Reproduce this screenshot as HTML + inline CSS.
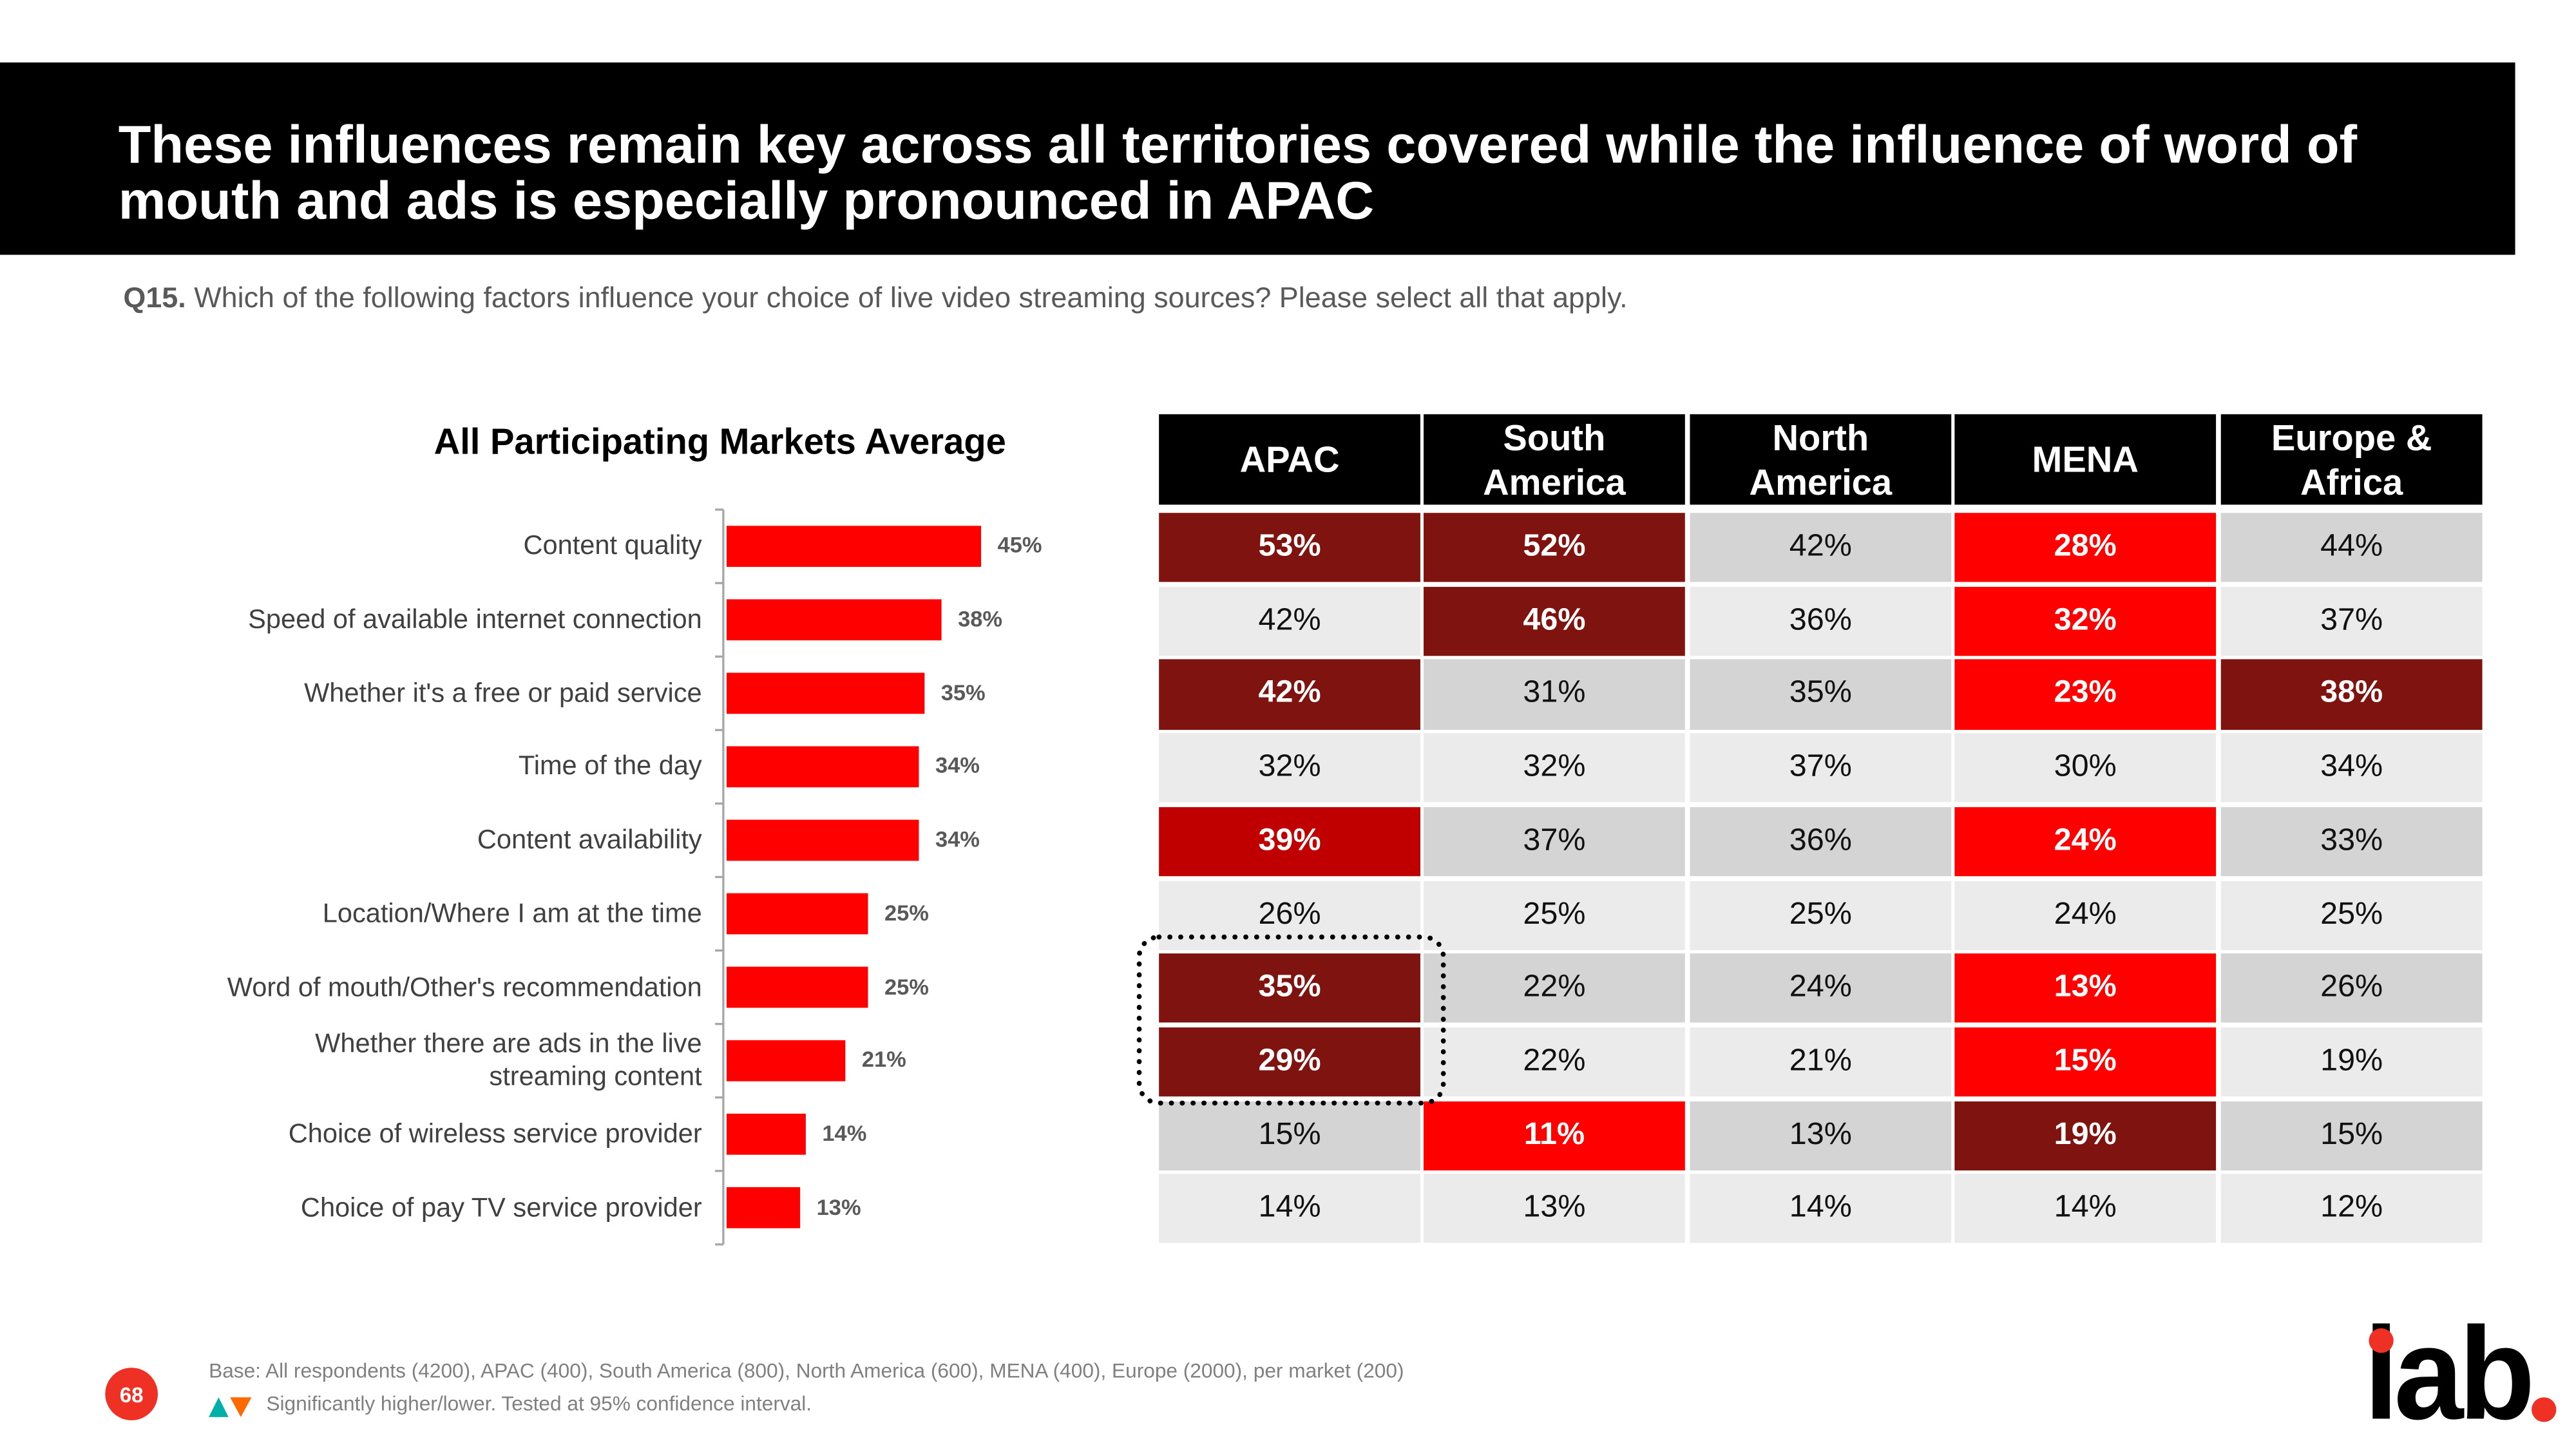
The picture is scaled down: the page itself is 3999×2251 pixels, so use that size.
<!DOCTYPE html>
<html><head><meta charset="utf-8"><style>
html,body{margin:0;padding:0;background:#fff;}
body{width:3999px;height:2250px;overflow:hidden;position:relative;font-family:"Liberation Sans",Arial,sans-serif;}
#wrap{position:absolute;left:0;top:0;width:1567px;height:882px;transform:scale(2.552);transform-origin:0 0;}
.abs{position:absolute;}
.lbl{position:absolute;right:1140px;text-align:right;font-size:16.3px;color:#404040;line-height:20px;}
.val{position:absolute;font-size:13.5px;font-weight:bold;color:#595959;}
.cell{position:absolute;display:flex;align-items:center;justify-content:center;font-size:19px;color:#111;}
.hdr{position:absolute;background:#000;color:#fff;display:flex;align-items:center;justify-content:center;text-align:center;font-size:22px;line-height:27px;font-weight:bold;}
</style></head><body>
<div id="wrap">
<div class="abs" style="left:0;top:38px;width:1530px;height:117px;background:#000;"></div>
<div class="abs" style="left:72px;top:71px;width:1420px;color:#fff;font-weight:bold;font-size:32.5px;line-height:34px;">These influences remain key across all territories covered while the influence of word of mouth and ads is especially pronounced in APAC</div>
<div class="abs" style="left:75px;top:171px;font-size:17.6px;color:#595959;"><b>Q15.</b> Which of the following factors influence your choice of live video streaming sources? Please select all that apply.</div>
<div class="abs" style="left:238px;top:256px;width:400px;text-align:center;font-weight:bold;font-size:22px;color:#000;">All Participating Markets Average</div>
<svg id="bars" class="abs" style="left:0;top:0;" width="700" height="800"></svg>
<div id="labels"></div>
<div id="table"></div>
<svg class="abs" style="left:690px;top:567px;" width="192" height="107"><rect x="3" y="3" width="185" height="101" rx="12" fill="none" stroke="#000" stroke-width="3" stroke-dasharray="0.1 6.5" stroke-linecap="round"/></svg>
<div class="abs" style="left:64px;top:832px;width:32px;height:32px;border-radius:50%;background:#ee3124;color:#fff;font-size:13px;font-weight:bold;display:flex;align-items:center;justify-content:center;">68</div>
<div class="abs" style="left:127px;top:827px;font-size:12.4px;color:#808080;">Base: All respondents (4200), APAC (400), South America (800), North America (600), MENA (400), Europe (2000), per market (200)</div>
<svg class="abs" style="left:127px;top:849px;" width="28" height="14"><polygon points="0,13 6,1 12,13" fill="#00b0a8"/><polygon points="13,1 26,1 19.5,13" fill="#ff6a00"/></svg>
<div class="abs" style="left:162px;top:847px;font-size:12.4px;color:#808080;">Significantly higher/lower. Tested at 95% confidence interval.</div>
<div class="abs" style="left:1438px;top:796px;font-size:80px;font-weight:bold;color:#000;letter-spacing:-3px;line-height:80px;transform:scaleX(0.95);transform-origin:0 0;">iab</div>
<div class="abs" style="left:1441px;top:808px;width:15px;height:15px;border-radius:50%;background:#ee3124;"></div>
<div class="abs" style="left:1540px;top:850px;width:15px;height:15px;border-radius:50%;background:#ee3124;"></div>
</div>
<script>
const categories=["Content quality","Speed of available internet connection","Whether it's a free or paid service","Time of the day","Content availability","Location/Where I am at the time","Word of mouth/Other's recommendation","Whether there are ads in the live streaming content","Choice of wireless service provider","Choice of pay TV service provider"];
const averages=[45,38,35,34,34,25,25,21,14,13];
const regions=["APAC","South America","North America","MENA","Europe & Africa"];
const apac=[53,42,42,32,39,26,35,29,15,14];
const southAmerica=[52,46,31,32,37,25,22,22,11,13];
const northAmerica=[42,36,35,37,36,25,24,21,13,14];
const mena=[28,32,23,30,24,24,13,15,19,14];
const europeAfrica=[44,37,38,34,33,25,26,19,15,12];
const sigApac=["d","g","d","g","m","g","d","d","g","g"];
const sigSouth=["d","d","g","g","g","g","g","g","r","g"];
const sigNorth=["g","g","g","g","g","g","g","g","g","g"];
const sigMena=["r","r","r","g","r","g","r","r","d","g"];
const sigEurope=["g","g","d","g","g","g","g","g","g","g"];

const NS="http://www.w3.org/2000/svg";
const svg=document.getElementById('bars');
const x0=442, pxPer=3.44, top0=310, pitch=44.7, barH=25;
const xs=v=>v*pxPer;
const yc=i=>top0+pitch*i+pitch/2;
let ax=document.createElementNS(NS,'line');
ax.setAttribute('x1',440);ax.setAttribute('x2',440);ax.setAttribute('y1',top0);ax.setAttribute('y2',top0+pitch*categories.length);
ax.setAttribute('stroke','#a6a6a6');ax.setAttribute('stroke-width','1.3');


svg.appendChild(ax);
for(let i=0;i<=categories.length;i++){
 const t=document.createElementNS(NS,'line');
 t.setAttribute('x1',435);t.setAttribute('x2',440);t.setAttribute('y1',top0+pitch*i);t.setAttribute('y2',top0+pitch*i);
 t.setAttribute('stroke','#a6a6a6');t.setAttribute('stroke-width','1.3');
 
 
 svg.appendChild(t);
}
const lab=document.getElementById('labels');
categories.forEach((c,i)=>{
 const r=document.createElementNS(NS,'rect');
 r.setAttribute('x',x0);r.setAttribute('y',yc(i)-barH/2);r.setAttribute('width',xs(averages[i]));r.setAttribute('height',barH);r.setAttribute('fill','#ff0000');
 
 
 svg.appendChild(r);
 const d=document.createElement('div');d.className='lbl';d.textContent=c;
 const lines=c.length>45?2:1;
 if(lines===2){d.style.width='250px';}
 d.style.top=(yc(i)-10*lines)+'px';
 
 
 lab.appendChild(d);
 const v=document.createElement('div');v.className='val';v.textContent=averages[i]+'%';
 v.style.left=(x0+xs(averages[i])+10)+'px';v.style.top=(yc(i)-8)+'px';
 
 
 lab.appendChild(v);
});
const tb=document.getElementById('table');
const colX=[705,866,1028,1189,1351], colW=159;
const cols=[apac,southAmerica,northAmerica,mena,europeAfrica];
const sigs=[sigApac,sigSouth,sigNorth,sigMena,sigEurope];
regions.forEach((r,j)=>{
 const h=document.createElement('div');h.className='hdr';
 h.style.left=colX[j]+'px';h.style.top='252px';h.style.width=colW+'px';h.style.height='55px';
 h.textContent=r;
 if(r==="South America"){h.innerHTML='South<br>America';}
 if(r==="North America"){h.innerHTML='North<br>America';}
 if(r==="Europe & Africa"){h.innerHTML='Europe &amp;<br>Africa';}
 
 
 tb.appendChild(h);
 cols[j].forEach((v,i)=>{
  const c=document.createElement('div');c.className='cell';
  const s=sigs[j][i];
  let bg=i%2===0?'#d4d4d4':'#ebebeb', fg='#111', fw='normal';
  if(s==='d'){bg='#7f130f';fg='#fff';fw='bold';}
  if(s==='m'){bg='#c00000';fg='#fff';fw='bold';}
  if(s==='r'){bg='#ff0000';fg='#fff';fw='bold';}
  c.style.background=bg;c.style.color=fg;c.style.fontWeight=fw;
  c.style.left=colX[j]+'px';c.style.width=colW+'px';
  c.style.top=(312+pitch*i)+'px';c.style.height=(pitch-2.5)+'px';
  c.textContent=v+'%';
  
  
  tb.appendChild(c);
 });
});
</script>
</body></html>
